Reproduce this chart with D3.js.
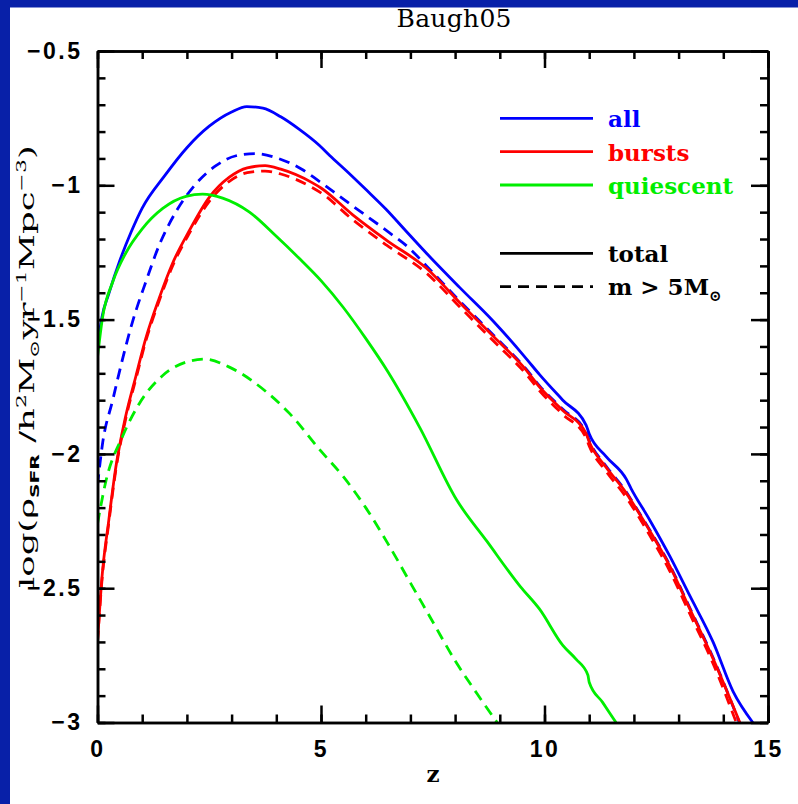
<!DOCTYPE html>
<html>
<head>
<meta charset="UTF-8">
<title>Baugh05</title>
<script src="https://cdn.jsdelivr.net/npm/d3@7"></script>
<style>
  body { margin: 0; background: #0820a8; }
  svg { display: block; }
  .axis path, .axis line { stroke: #000; stroke-width: 2.5; }
  .axis text { font-family: "Liberation Sans", Arial, sans-serif; font-weight: bold; font-size: 23px; letter-spacing: 2.5px; fill: #000; }
  .curve { fill: none; stroke-width: 2.8; stroke-linejoin: round; }
</style>
</head>
<body>
<div id="chart"></div>
<script>
// ---- data (z, log rho_SFR) ----
const allTotalZ = [0, 0.1, 0.25, 0.5, 0.75, 1.0, 1.5, 2.0, 2.5, 3.0, 3.34, 3.7, 4.1, 4.5, 4.96, 5.2, 5.56, 6.0, 6.46, 6.9, 7.36, 8.1, 8.86, 9.6, 9.89, 10.41, 10.93, 11.0, 11.38, 11.83, 11.94, 12.35, 12.8, 13.25, 13.77, 14.22, 14.66];
const allTotal  = [-1.60, -1.49, -1.405, -1.28, -1.175, -1.085, -0.965, -0.86, -0.78, -0.727, -0.707, -0.713, -0.745, -0.79, -0.851, -0.89, -0.945, -1.015, -1.09, -1.17, -1.253, -1.38, -1.507, -1.647, -1.705, -1.80, -1.893, -1.925, -2.01, -2.094, -2.13, -2.245, -2.38, -2.528, -2.70, -2.885, -3.0];

const allMassiveZ = [0, 0.11, 0.34, 0.56, 0.78, 1.08, 1.38, 1.75, 2.2, 2.65, 3.1, 3.54, 3.99, 4.59, 4.96, 5.71, 6.46, 6.98, 7.36, 8.1, 8.86, 9.6, 9.89, 10.41, 10.93, 11.0, 11.38, 11.83, 11.98, 12.35, 12.8, 13.25, 13.77, 14.36];
const allMassive  = [-2.117, -1.965, -1.80, -1.647, -1.51, -1.36, -1.223, -1.10, -0.995, -0.927, -0.89, -0.882, -0.897, -0.942, -0.985, -1.077, -1.168, -1.235, -1.30, -1.43, -1.558, -1.686, -1.747, -1.834, -1.92, -1.95, -2.046, -2.142, -2.182, -2.282, -2.413, -2.573, -2.758, -3.0];

const burstTotalZ = [0, 0.1, 0.25, 0.41, 0.63, 0.86, 1.08, 1.38, 1.68, 2.05, 2.5, 2.95, 3.35, 3.75, 4.1, 4.8, 5.0, 5.71, 6.46, 7.36, 8.1, 8.86, 9.6, 9.89, 10.41, 10.93, 11.0, 11.38, 11.83, 11.98, 12.35, 12.8, 13.25, 13.77, 14.37];
const burstTotal  = [-2.70, -2.46, -2.25, -2.05, -1.86, -1.71, -1.57, -1.42, -1.29, -1.17, -1.045, -0.97, -0.935, -0.927, -0.94, -0.99, -1.01, -1.11, -1.204, -1.309, -1.436, -1.563, -1.69, -1.751, -1.838, -1.924, -1.955, -2.05, -2.146, -2.185, -2.285, -2.417, -2.577, -2.762, -3.0];

const burstMassiveZ = [0, 0.1, 0.25, 0.41, 0.63, 0.86, 1.08, 1.38, 1.68, 2.05, 2.5, 2.95, 3.35, 3.75, 4.1, 4.8, 5.0, 5.71, 6.46, 7.36, 8.1, 8.86, 9.6, 9.89, 10.41, 10.93, 11.0, 11.38, 11.83, 11.98, 12.35, 12.8, 13.25, 13.77, 14.29];
const burstMassive  = [-2.70, -2.47, -2.26, -2.06, -1.87, -1.72, -1.58, -1.43, -1.30, -1.18, -1.06, -0.985, -0.953, -0.947, -0.958, -1.008, -1.028, -1.128, -1.222, -1.327, -1.452, -1.58, -1.705, -1.765, -1.853, -1.94, -1.97, -2.065, -2.162, -2.2, -2.302, -2.435, -2.595, -2.78, -3.0];

const quiesTotalZ = [0, 0.11, 0.34, 0.63, 1.0, 1.46, 1.98, 2.35, 2.8, 3.4, 4.0, 4.5, 5.0, 5.5, 6.0, 6.5, 7.21, 8.03, 8.71, 9.46, 9.89, 10.41, 10.71, 10.97, 11.0, 11.3, 11.6];
const quiesTotal  = [-1.64, -1.495, -1.36, -1.253, -1.162, -1.086, -1.041, -1.033, -1.048, -1.10, -1.19, -1.27, -1.355, -1.455, -1.57, -1.695, -1.902, -2.17, -2.325, -2.494, -2.578, -2.713, -2.765, -2.823, -2.85, -2.925, -3.0];

const quiesMassiveZ = [0, 0.19, 0.56, 0.93, 1.46, 2.05, 2.4, 2.95, 3.77, 4.3, 5.0, 5.5, 6.0, 6.5, 7.0, 7.5, 8.0, 8.5, 8.94];
const quiesMassive  = [-2.26, -2.10, -1.935, -1.814, -1.708, -1.655, -1.647, -1.677, -1.768, -1.85, -1.99, -2.085, -2.2, -2.335, -2.48, -2.625, -2.77, -2.895, -3.0];

const xMajorTicks = [0, 5, 10, 15];
const xTickLabels = ["0", "5", "10", "15"];
const yMajorTicks = [-3, -2.5, -2, -1.5, -1, -0.5];
const yTickLabels = ["\u22123", "\u22122.5", "\u22122", "\u22121.5", "\u22121", "\u22120.5"];

const legendNames = ["all", "bursts", "quiescent"];
const legendColors = ["#0000ff", "#ff0000", "#00ee00"];

// ---- layout ----
const W = 798, H = 804;
const pLeft = 97.5, pRight = 768, pTop = 51, pBottom = 722.5;

const svg = d3.select("#chart").append("svg").attr("width", W).attr("height", H);
svg.append("rect").attr("width", W).attr("height", H).attr("fill", "#0820a8");
svg.append("rect").attr("x", 10).attr("y", 7.5).attr("width", W - 10).attr("height", H - 7.5).attr("fill", "#fff");

const x = d3.scaleLinear().domain([0, 15]).range([pLeft, pRight]);
const y = d3.scaleLinear().domain([-3, -0.5]).range([pBottom, pTop]);

svg.append("defs").append("clipPath").attr("id", "plot")
  .append("rect").attr("x", pLeft).attr("y", pTop).attr("width", pRight - pLeft).attr("height", pBottom - pTop);

// ---- curves ----
const line = d3.line().x(d => x(d[0])).y(d => y(d[1])).curve(d3.curveMonotoneX);
const series = [
  { z: allTotalZ, v: allTotal, color: legendColors[0], dash: null },
  { z: allMassiveZ, v: allMassive, color: legendColors[0], dash: "11,7" },
  { z: burstTotalZ, v: burstTotal, color: legendColors[1], dash: null },
  { z: burstMassiveZ, v: burstMassive, color: legendColors[1], dash: "11,7" },
  { z: quiesTotalZ, v: quiesTotal, color: legendColors[2], dash: null },
  { z: quiesMassiveZ, v: quiesMassive, color: legendColors[2], dash: "11,7" }
];
const g = svg.append("g").attr("clip-path", "url(#plot)");
series.forEach(s => {
  g.append("path").attr("class", "curve")
    .attr("d", line(s.z.map((z, i) => [z, s.v[i]])))
    .attr("stroke", s.color)
    .attr("stroke-dasharray", s.dash);
});

// ---- axes (ticks inward on all four sides) ----
const xMinor = d3.range(0, 16);
const yMinor = d3.range(-3, -0.45, 0.1);

function addAxis(axis, tx, ty, labels) {
  const a = svg.append("g").attr("class", "axis").attr("transform", `translate(${tx},${ty})`).call(axis);
  if (!labels) a.selectAll("text").remove();
  return a;
}
addAxis(d3.axisBottom(x).tickValues(xMinor).tickSize(-8).tickSizeOuter(0), 0, pBottom, false);
addAxis(d3.axisBottom(x).tickValues(xMajorTicks).tickSize(-17).tickSizeOuter(0).tickPadding(18).tickFormat((d, i) => xTickLabels[i]), 0, pBottom, true);
addAxis(d3.axisTop(x).tickValues(xMinor).tickSize(-8).tickSizeOuter(0), 0, pTop, false);
addAxis(d3.axisTop(x).tickValues(xMajorTicks).tickSize(-17).tickSizeOuter(0), 0, pTop, false);
addAxis(d3.axisLeft(y).tickValues(yMinor).tickSize(-8).tickSizeOuter(0), pLeft, 0, false);
addAxis(d3.axisLeft(y).tickValues(yMajorTicks).tickSize(-17).tickSizeOuter(0).tickPadding(15).tickFormat((d, i) => yTickLabels[i]), pLeft, 0, true);
addAxis(d3.axisRight(y).tickValues(yMinor).tickSize(-8).tickSizeOuter(0), pRight, 0, false);
addAxis(d3.axisRight(y).tickValues(yMajorTicks).tickSize(-17).tickSizeOuter(0), pRight, 0, false);

// ---- titles ----
svg.append("text").attr("x", 454).attr("y", 27).attr("text-anchor", "middle")
  .style("font-family", "'DejaVu Serif', serif").style("font-size", "25px")
  .attr("textLength", 115).attr("lengthAdjust", "spacing")
  .text("Baugh05");

svg.append("text").attr("x", 433).attr("y", 782).attr("text-anchor", "middle")
  .style("font-family", "'DejaVu Serif', serif").style("font-size", "23px").style("font-weight", "bold")
  .text("z");

// y title: wide plotter font, so stretch the glyphs along the reading direction
const yt = svg.append("text")
  .style("font-family", "'DejaVu Serif', serif").style("font-size", "21px");
yt.append("tspan").text("log(\u03c1");
yt.append("tspan").attr("dy", 5).style("font-family", "'DejaVu Sans', sans-serif").style("font-weight", "bold").style("font-size", "12px").text("SFR");
yt.append("tspan").attr("dy", -5).text(" /h");
yt.append("tspan").attr("dy", -8).style("font-size", "13px").text("2");
yt.append("tspan").attr("dy", 8).text("M");
yt.append("tspan").attr("dy", 5).style("font-size", "13px").text("\u2299");
yt.append("tspan").attr("dy", -5).text("yr");
yt.append("tspan").attr("dy", -8).style("font-size", "13px").text("\u22121");
yt.append("tspan").attr("dy", 8).text("Mpc");
yt.append("tspan").attr("dy", -8).style("font-size", "13px").text("\u22123");
yt.append("tspan").attr("dy", 8).text(")");
const ytLen = yt.node().getComputedTextLength();
yt.attr("transform", `translate(34,588) rotate(-90) scale(${443 / ytLen},1)`);

// ---- legend ----
const legendFont = s => s.style("font-family", "'DejaVu Serif', serif").style("font-weight", "bold").style("font-size", "23px");
const colorRows = [118.3, 151.7, 185];
legendNames.forEach((name, i) => {
  svg.append("line").attr("x1", 500).attr("x2", 593).attr("y1", colorRows[i]).attr("y2", colorRows[i])
    .attr("stroke", legendColors[i]).attr("stroke-width", 2.8);
  svg.append("text").attr("x", 608).attr("y", colorRows[i] + 9).attr("fill", legendColors[i]).call(legendFont).text(name);
});
svg.append("line").attr("x1", 500).attr("x2", 593).attr("y1", 253.3).attr("y2", 253.3)
  .attr("stroke", "#000").attr("stroke-width", 2.8);
svg.append("text").attr("x", 608).attr("y", 262).call(legendFont).text("total");
svg.append("line").attr("x1", 500).attr("x2", 593).attr("y1", 286.7).attr("y2", 286.7)
  .attr("stroke", "#000").attr("stroke-width", 2.8).attr("stroke-dasharray", "11,7");
const mt = svg.append("text").attr("x", 608).attr("y", 295).call(legendFont);
mt.append("tspan").text("m > 5M");
mt.append("tspan").attr("dy", 6).style("font-size", "15px").text("\u2299");
</script>
</body>
</html>
